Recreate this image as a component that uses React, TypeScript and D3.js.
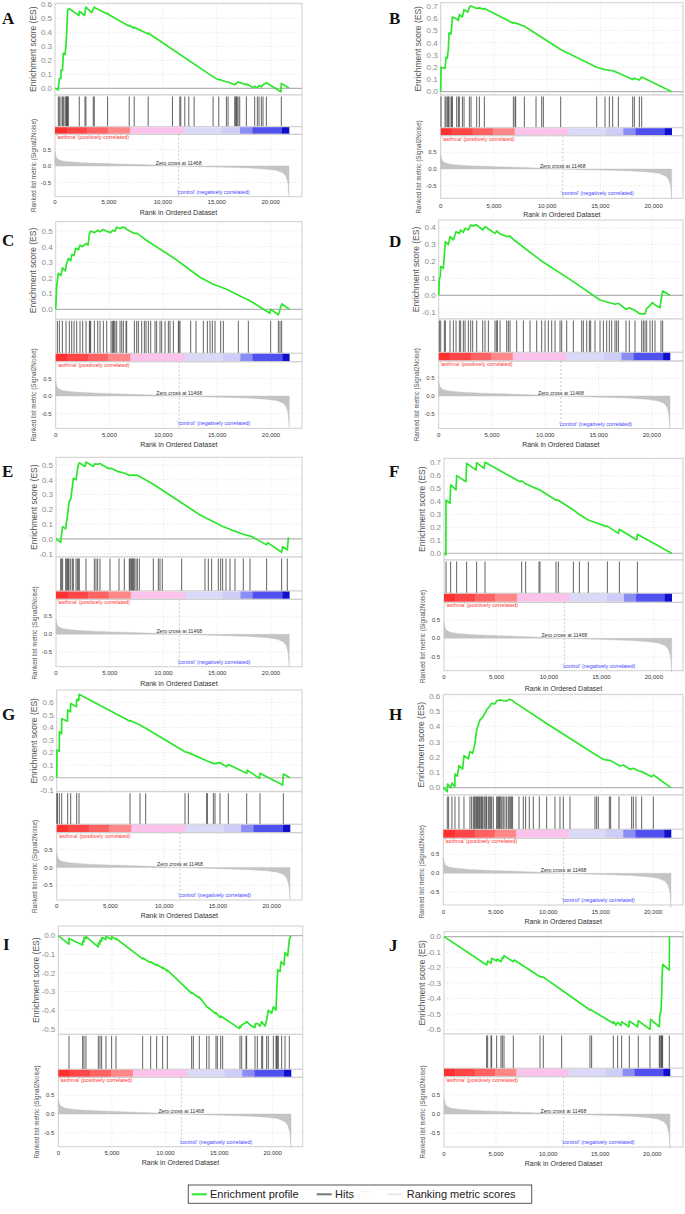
import React from 'react';
import * as d3 from 'd3';

// ---------------- DATA ----------------
const N_GENES = 21700;
const ZERO_CROSS = 11468;
const xTickValues = [0, 5000, 10000, 15000, 20000];
const rankTickValues = [-0.5, 0, 0.5];
const posLabel = "'asthma' (positively correlated)";
const negLabel = "'control' (negatively correlated)";
const zeroCrossLabel = 'Zero cross at 11468';
const legendItems = ['Enrichment profile', 'Hits', 'Ranking metric scores'];

const colorBarSegments: [number, number, string][] = [
  [0, 1100, '#ff3030'], [1100, 3000, '#ff4545'], [3000, 4900, '#ff6262'], [4900, 6950, '#ff8787'],
  [6950, 12000, '#fbc3ec'], [12000, 15500, '#dadaf8'], [15500, 17150, '#cdcdf7'], [17150, 18300, '#8c8cf5'],
  [18300, 21050, '#5050ee'], [21050, 21700, '#1010cc'],
];

const rankedMetric: [number, number][] = [
  [0, 0.42], [50, 0.32], [200, 0.22], [600, 0.16], [1200, 0.13], [2500, 0.1], [4000, 0.08], [6000, 0.06],
  [8500, 0.035], [11468, 0], [13500, -0.02], [16000, -0.04], [18000, -0.06], [19500, -0.09], [20500, -0.13],
  [21100, -0.2], [21400, -0.3], [21600, -0.5], [21690, -0.9], [21700, 0],
];

const esA: [number, number][] = [[0,0],[300,-0.012],[310,0.0],[400,0.07],[550,0.07],[560,0.13],[700,0.13],[770,0.25],[930,0.24],[1000,0.29],[1080,0.39],[1170,0.56],[1300,0.57],[2220,0.52],[2250,0.55],[2750,0.52],[2870,0.58],[3400,0.54],[3640,0.58],[3700,0.575],[4850,0.53],[4880,0.535],[5000,0.525],[6850,0.445],[6880,0.45],[7300,0.43],[7350,0.435],[8600,0.39],[8640,0.395],[14600,0.085],[15150,0.06],[15200,0.065],[15900,0.045],[16050,0.045],[16650,0.025],[16980,0.045],[17150,0.04],[17750,0.025],[17760,0.03],[18350,0.005],[18520,0.015],[18760,0.003],[18920,0.02],[19140,0.01],[19290,0.025],[19600,0.04],[20950,-0.025],[20990,0.035],[21700,0.0]];
const hitsA = [309,401,556,710,772,926,1019,1080,1111,1173,1235,2253,2778,2870,3549,3642,4877,6883,7346,8642,10895,11574,11667,12037,12407,12901,14660,15185,15895,16049,16667,16759,16821,16883,16975,17130,17747,18519,18765,18920,19136,19290,19599,20988];

const esB: [number, number][] = [[0,0],[31,0.2],[407,0.19],[501,0.28],[620,0.275],[720,0.35],[783,0.48],[960,0.47],[1033,0.53],[1096,0.61],[1500,0.595],[1659,0.58],[1753,0.63],[2030,0.61],[2192,0.67],[2550,0.65],[2693,0.69],[2849,0.70],[3381,0.68],[3632,0.685],[4000,0.675],[4102,0.68],[6800,0.56],[6826,0.565],[7045,0.56],[7859,0.535],[11272,0.345],[14653,0.2],[15436,0.18],[15843,0.175],[16156,0.172],[16688,0.152],[18035,0.1],[18191,0.11],[18660,0.095],[18880,0.12],[21700,0]];
const hitsB = [31,407,501,626,720,783,971,1033,1096,1503,1659,1753,2035,2192,2693,2849,3381,3632,4102,6826,6982,7045,7859,8955,9487,9643,11272,14653,15436,15843,16156,16688,18035,18191,18661,18880];

const esC: [number, number][] = [[0,0],[90,0.145],[240,0.23],[480,0.215],[620,0.265],[900,0.245],[1000,0.29],[1180,0.325],[1390,0.31],[1500,0.35],[1700,0.345],[1860,0.39],[2100,0.38],[2260,0.41],[2500,0.4],[2800,0.42],[3000,0.41],[3130,0.48],[3250,0.5],[3600,0.49],[3900,0.505],[4100,0.495],[4400,0.51],[4700,0.5],[5100,0.49],[5300,0.505],[5500,0.5],[5650,0.525],[6000,0.515],[6150,0.525],[6500,0.52],[6600,0.51],[7300,0.485],[7550,0.485],[8450,0.44],[10930,0.33],[13400,0.205],[14640,0.16],[15880,0.128],[16970,0.09],[17900,0.06],[19900,-0.025],[19970,0.0],[20680,-0.035],[20840,0.0],[21000,0.035],[21700,0]];
const hitsC = [155,341,619,960,1269,1486,1703,1950,2260,2508,2817,3127,3189,3251,3591,3901,4118,4427,4737,5139,5263,5356,5418,5511,5666,5975,6130,6285,6533,6594,7307,7523,7678,7988,8235,8390,8607,8824,9226,9381,9690,9845,10155,10464,10619,10929,11393,11455,11548,12539,13034,13715,14087,14334,14551,14799,15325,15573,16966,17895,19969,20681,20836,20991];

const esD: [number, number][] = [[0,0],[63,0.1],[150,0.11],[188,0.17],[438,0.16],[531,0.24],[625,0.317],[907,0.3],[1063,0.347],[1376,0.327],[1626,0.376],[1939,0.366],[2064,0.386],[2314,0.372],[2470,0.396],[2783,0.386],[3002,0.416],[3190,0.41],[3565,0.416],[4128,0.386],[4347,0.406],[4659,0.392],[5285,0.366],[5441,0.38],[5754,0.363],[6379,0.347],[6692,0.35],[7004,0.33],[9506,0.209],[12633,0.081],[15135,-0.028],[16542,-0.053],[16855,-0.047],[17574,-0.083],[17887,-0.073],[18418,-0.09],[18887,-0.11],[19356,-0.11],[19512,-0.077],[19825,-0.061],[20044,-0.043],[20294,-0.057],[20763,-0.073],[20857,-0.028],[21013,0.026],[21700,0]];
const hitsD = [63,188,531,625,1063,1376,1626,1939,2064,2314,2470,2783,3002,3190,3565,4128,4347,4659,5285,5441,5504,5754,6379,6535,6692,7317,7943,8568,9193,9662,9975,10288,10601,10913,11382,11539,12008,12633,13415,13571,13884,14134,14259,14666,15135,15447,15760,16010,16229,16542,16698,16855,17574,17887,18418,19043,19200,19356,19512,19825,20044,20294,20857,21013];

const esE: [number, number][] = [[0,0],[434,-0.022],[527,0.038],[620,0.083],[899,0.068],[1085,0.17],[1209,0.25],[1364,0.27],[1519,0.35],[1612,0.41],[1860,0.4],[1984,0.466],[2077,0.5],[2170,0.515],[2697,0.489],[2790,0.52],[3472,0.49],[3565,0.507],[3900,0.505],[4092,0.51],[4867,0.477],[5177,0.477],[5797,0.455],[6417,0.444],[6882,0.428],[7037,0.432],[7502,0.432],[7812,0.42],[8897,0.376],[11532,0.252],[13392,0.162],[14942,0.106],[15407,0.088],[16182,0.065],[16492,0.056],[17422,0.032],[18197,0.016],[19592,-0.04],[19685,-0.025],[20987,-0.09],[21080,-0.052],[21514,-0.074],[21607,0.005],[21700,0]];
const hitsE = [434,527,620,899,992,1085,1147,1209,1364,1519,1612,1860,1984,2077,2170,2790,3565,3720,3875,4092,5022,5859,6355,6820,6882,6975,7037,7130,7192,7285,7440,7564,7750,9052,9517,9672,9889,11687,13857,14167,14477,15097,15314,15500,15810,16182,16647,17422,18042,19592,20987,21514];

const esF: [number, number][] = [[0,0],[185,-0.013],[191,0.41],[572,0.386],[635,0.528],[1144,0.49],[1207,0.6],[2097,0.553],[2160,0.695],[3050,0.643],[3113,0.7],[3812,0.656],[3908,0.703],[7244,0.553],[7403,0.56],[7720,0.54],[8991,0.494],[9150,0.489],[10675,0.41],[10897,0.41],[12327,0.335],[12899,0.3],[13757,0.257],[15504,0.206],[15567,0.21],[16616,0.154],[16711,0.185],[18363,0.103],[18427,0.147],[21700,0]];
const hitsF = [191,635,1207,2160,3113,3908,7402,7784,9054,9150,10675,10897,12327,12899,13756,15567,16711,18427];

const esG: [number, number][] = [[0,0],[20,0.22],[240,0.21],[248,0.366],[455,0.35],[465,0.47],[1000,0.45],[1023,0.54],[1280,0.525],[1302,0.59],[1840,0.565],[1860,0.624],[2060,0.615],[2077,0.664],[6820,0.45],[6850,0.455],[7750,0.42],[8277,0.393],[11935,0.207],[12245,0.2],[13950,0.135],[14570,0.114],[14725,0.112],[15190,0.12],[15810,0.088],[15965,0.106],[17670,0.035],[17732,0.061],[18848,-0.005],[18910,0.035],[21018,-0.058],[21080,0.03],[21700,0]];
const hitsG = [20,62,248,465,1023,1302,1860,2077,6820,7750,8277,11935,12245,13950,14012,14570,14725,15190,15965,17670,18910,21080];

const esH: [number, number][] = [[0,0],[381,-0.026],[400,0.024],[731,0.0],[826,0.03],[1100,0.007],[1112,0.089],[1334,0.076],[1493,0.144],[1843,0.122],[1970,0.21],[2383,0.188],[2542,0.236],[2796,0.225],[3018,0.29],[3177,0.377],[3336,0.41],[3495,0.443],[3749,0.46],[3971,0.487],[4130,0.508],[4384,0.53],[4607,0.552],[4924,0.548],[5083,0.567],[5337,0.574],[5719,0.57],[6036,0.568],[6291,0.578],[6513,0.574],[6700,0.563],[9849,0.42],[14297,0.225],[15250,0.185],[15948,0.177],[16838,0.142],[17156,0.148],[17791,0.12],[18109,0.127],[18586,0.111],[18903,0.105],[19856,0.072],[20015,0.083],[21700,0]];
const hitsH = [381,508,826,1112,1493,1970,2542,2700,2859,2955,3018,3113,3177,3272,3336,3431,3495,3590,3654,3749,3876,3971,4067,4130,4289,4384,4511,4607,4766,5083,5179,5274,5337,5401,5496,5592,5719,5877,6036,6195,6291,6418,6513,6608,7212,7625,7847,8197,8578,9150,9849,10643,11120,11437,12073,14455,14614,14773,15821,15948,16743,17950,18109,18363,18903,20015];

const esI: [number, number][] = [[0,0],[990,-0.045],[995,-0.015],[2265,-0.05],[2270,-0.03],[2390,-0.033],[2395,-0.01],[2580,-0.015],[2585,-0.005],[3725,-0.06],[3730,-0.04],[3880,-0.045],[3885,-0.025],[4040,-0.03],[4045,-0.01],[4440,-0.02],[4445,-0.005],[4970,-0.02],[4975,-0.005],[5375,-0.02],[5380,-0.015],[7866,-0.125],[7870,-0.12],[8612,-0.145],[8615,-0.14],[9172,-0.16],[9175,-0.155],[9731,-0.175],[9735,-0.17],[10166,-0.19],[10170,-0.185],[12436,-0.31],[12440,-0.305],[13151,-0.335],[13155,-0.33],[13835,-0.382],[14054,-0.39],[14706,-0.42],[14710,-0.415],[15079,-0.439],[15141,-0.432],[15700,-0.453],[16881,-0.498],[16944,-0.486],[17006,-0.493],[17100,-0.48],[17410,-0.471],[17566,-0.462],[18032,-0.486],[18343,-0.493],[18350,-0.475],[18561,-0.471],[18810,-0.486],[18965,-0.462],[19276,-0.486],[19431,-0.453],[19587,-0.4],[19898,-0.417],[20053,-0.382],[20302,-0.4],[20364,-0.31],[20457,-0.184],[20675,-0.193],[20769,-0.14],[21049,-0.157],[21142,-0.091],[21391,-0.109],[21545,-0.02],[21700,0]];
const hitsI = [995,2270,2394,2580,3731,3886,4042,4446,4974,5379,7866,8612,9172,9731,10166,12436,12591,13151,13835,14054,14706,14830,15141,15327,16944,17100,17504,17566,18343,18561,18965,19058,19431,19587,20053,20302,20364,20426,20519,20830,21142,21545];

const esJ: [number, number][] = [[0,0],[4096,-0.183],[4192,-0.158],[4512,-0.173],[4576,-0.14],[5056,-0.158],[5100,-0.145],[5472,-0.162],[5600,-0.136],[5700,-0.14],[5760,-0.123],[6656,-0.162],[6752,-0.151],[9216,-0.259],[9536,-0.262],[11296,-0.345],[14016,-0.475],[14176,-0.476],[16256,-0.561],[16300,-0.55],[16500,-0.572],[16672,-0.555],[16992,-0.576],[17056,-0.55],[17760,-0.583],[17792,-0.546],[18592,-0.583],[18656,-0.544],[19776,-0.6],[19840,-0.535],[20672,-0.583],[20736,-0.496],[20832,-0.49],[20896,-0.39],[20928,-0.29],[20992,-0.18],[21632,-0.216],[21650,0],[21700,0]];
const hitsJ = [4096,4192,4512,4576,5056,5472,5600,5760,6656,9216,9536,11296,14016,14176,16256,16672,17056,17792,18656,19776,20672,20736,20832,20896,20928,20992,21632];

const panelLetters = ['A', 'B', 'C', 'D', 'E', 'F', 'G', 'H', 'I', 'J'];
const panelES = [esA, esB, esC, esD, esE, esF, esG, esH, esI, esJ];
const panelHits = [hitsA, hitsB, hitsC, hitsD, hitsE, hitsF, hitsG, hitsH, hitsI, hitsJ];

// ---------------- LAYOUT ----------------
type Layout = {
  x0: number; xEnd: number; right: number;
  esTop: number; esBot: number; esMin: number; esMax: number;
  barTop: number; barBot: number; rZero: number; rHalf: number; rBot: number;
  tickY: number; titleY: number; lx: number; ly: number;
};
const layouts: Layout[] = [
  { x0: 55, xEnd: 289, right: 302, esTop: 3.3, esBot: 95, esMin: -0.048, esMax: 0.607, barTop: 126.7, barBot: 134.3, rZero: 166, rHalf: 16.5, rBot: 196.7, tickY: 202, titleY: 212.5, lx: 2, ly: 23.5 },
  { x0: 440.7, xEnd: 671.7, right: 683, esTop: 2.7, esBot: 95, esMin: -0.027, esMax: 0.727, barTop: 127.7, barBot: 135.7, rZero: 169, rHalf: 16.8, rBot: 198.3, tickY: 205.7, titleY: 215, lx: 389, ly: 23.5 },
  { x0: 55.7, xEnd: 289.3, right: 302, esTop: 221.7, esBot: 319.3, esMin: -0.064, esMax: 0.56, barTop: 353.3, barBot: 361.7, rZero: 396, rHalf: 17.5, rBot: 428.3, tickY: 434.7, titleY: 444.7, lx: 2, ly: 246 },
  { x0: 438.7, xEnd: 670, right: 683, esTop: 220, esBot: 319, esMin: -0.14, esMax: 0.445, barTop: 352.3, barBot: 361, rZero: 396, rHalf: 17.8, rBot: 428.5, tickY: 435, titleY: 445, lx: 389, ly: 247 },
  { x0: 56, xEnd: 289.3, right: 302, esTop: 457.3, esBot: 557, esMin: -0.122, esMax: 0.552, barTop: 591, barBot: 599.3, rZero: 634.3, rHalf: 18, rBot: 666.7, tickY: 673.3, titleY: 683.3, lx: 2, ly: 477 },
  { x0: 444, xEnd: 671.7, right: 683, esTop: 458.3, esBot: 560, esMin: -0.052, esMax: 0.734, barTop: 593.3, barBot: 602.3, rZero: 638.3, rHalf: 18.7, rBot: 670.7, tickY: 677.3, titleY: 688.3, lx: 389, ly: 477 },
  { x0: 56.7, xEnd: 290, right: 302, esTop: 690, esBot: 791.7, esMin: -0.111, esMax: 0.698, barTop: 824.3, barBot: 832.7, rZero: 867.5, rHalf: 17.8, rBot: 900, tickY: 906, titleY: 916, lx: 2, ly: 720 },
  { x0: 443.3, xEnd: 671, right: 683, esTop: 694.3, esBot: 795, esMin: -0.048, esMax: 0.611, barTop: 829.3, barBot: 838.3, rZero: 873.3, rHalf: 19, rBot: 905, tickY: 911.7, titleY: 921.7, lx: 389, ly: 720 },
  { x0: 58.3, xEnd: 291, right: 302.7, esTop: 926, esBot: 1034.3, esMin: -0.53, esMax: 0.052, barTop: 1069.3, barBot: 1077.3, rZero: 1114, rHalf: 18.7, rBot: 1146.7, tickY: 1153.3, titleY: 1162.7, lx: 3, ly: 950 },
  { x0: 444, xEnd: 670, right: 683, esTop: 931.7, esBot: 1034, esMin: -0.63, esMax: 0.032, barTop: 1068.3, barBot: 1076.7, rZero: 1114, rHalf: 19, rBot: 1147, tickY: 1154, titleY: 1164, lx: 389, ly: 951 },
];

const FONT = "'Liberation Sans', Arial, Helvetica, sans-serif";
const fmt1 = (v: number) => (Math.abs(v) < 1e-9 ? '0.0' : v.toFixed(1));
const fmtX = d3.format(',');

function esTickValues(min: number, max: number) {
  const out: number[] = [];
  for (let k = Math.ceil(min * 10 - 1e-6); k <= Math.floor(max * 10 + 1e-6); k++) out.push(k / 10);
  return out;
}

function Panel({ L, es, hits, letter }: { L: Layout; es: [number, number][]; hits: number[]; letter: string }) {
  const x = d3.scaleLinear().domain([0, N_GENES]).range([L.x0, L.xEnd]);
  const y = d3.scaleLinear().domain([L.esMin, L.esMax]).range([L.esBot, L.esTop]);
  const yr = d3.scaleLinear().domain([0, 0.5]).range([L.rZero, L.rZero - L.rHalf]);
  const w = L.right - L.x0;
  const line = d3.line<[number, number]>().x((d) => x(d[0])).y((d) => y(d[1]));
  const area = d3.area<[number, number]>().x((d) => x(d[0])).y0(yr(0)).y1((d) => yr(d[1]));
  const esTicks = esTickValues(L.esMin, L.esMax);
  const frame = '#cfcfcf';
  const grid = '#dcdcdc';
  const xz = x(ZERO_CROSS);
  return (
    <g>
      <text x={L.lx} y={L.ly} fontFamily="'Liberation Serif', 'Times New Roman', serif" fontWeight="bold" fontSize={17} fill="#111">{letter}</text>
      {/* ES panel */}
      <rect x={L.x0} y={L.esTop} width={w} height={L.esBot - L.esTop} fill="#fff" stroke={frame} strokeWidth={1} />
      {xTickValues.filter((v) => v > 0).map((v) => (
        <line key={'gv' + v} x1={x(v)} x2={x(v)} y1={L.esTop} y2={L.esBot} stroke={grid} strokeDasharray="1,2" strokeWidth={0.8} />
      ))}
      {esTicks.filter((v) => Math.abs(v) > 1e-9).map((v) => (
        <line key={'gh' + v} x1={L.x0} x2={L.right} y1={y(v)} y2={y(v)} stroke={grid} strokeDasharray="1,2" strokeWidth={0.8} />
      ))}
      <line x1={L.x0} x2={L.right} y1={y(0)} y2={y(0)} stroke="#b4b4b4" strokeWidth={1.2} />
      {esTicks.map((v) => (
        <text key={'et' + v} x={L.x0 - 3} y={y(v)} dy="0.35em" textAnchor="end" fontFamily={FONT} fontSize={8} fill="#8a8a8a">{fmt1(v)}</text>
      ))}
      <path d={line(es) || ''} fill="none" stroke="#2ee62e" strokeWidth={1.7} strokeLinejoin="round" />
      <text transform={`translate(${L.x0 - 19.5},${(L.esTop + L.esBot) / 2}) rotate(-90)`} textAnchor="middle" fontFamily={FONT} fontSize={8.5} fill="#555">Enrichment score (ES)</text>
      {/* Hits panel */}
      <rect x={L.x0} y={L.esBot} width={w} height={L.barTop - L.esBot} fill="#fff" stroke={frame} strokeWidth={1} />
      {hits.map((h, i) => (
        <line key={'h' + i} x1={x(h)} x2={x(h)} y1={L.esBot + 1.5} y2={L.barTop} stroke="#3a3a3a" strokeWidth={0.8} />
      ))}
      {/* Color bar */}
      <rect x={L.x0} y={L.barTop} width={w} height={L.barBot - L.barTop} fill="#fff" stroke={frame} strokeWidth={1} />
      {colorBarSegments.map((s, i) => (
        <rect key={'c' + i} x={x(s[0])} y={L.barTop + 0.5} width={x(s[1]) - x(s[0]) + 0.3} height={L.barBot - L.barTop - 1} fill={s[2]} />
      ))}
      {/* Ranked list panel */}
      <rect x={L.x0} y={L.barBot} width={w} height={L.rBot - L.barBot} fill="none" stroke={frame} strokeWidth={1} />
      {xTickValues.filter((v) => v > 0).map((v) => (
        <line key={'gr' + v} x1={x(v)} x2={x(v)} y1={L.barBot} y2={L.rBot} stroke={grid} strokeDasharray="1,2" strokeWidth={0.8} />
      ))}
      {rankTickValues.filter((v) => v !== 0).map((v) => (
        <line key={'grh' + v} x1={L.x0} x2={L.right} y1={yr(v)} y2={yr(v)} stroke={grid} strokeDasharray="1,2" strokeWidth={0.8} />
      ))}
      <line x1={xz} x2={xz} y1={L.barBot} y2={L.rBot} stroke="#bbbbbb" strokeDasharray="2,2" strokeWidth={0.8} />
      <path d={area(rankedMetric) || ''} fill="#c4c4c4" stroke="#bdbdbd" strokeWidth={0.4} />
      {rankTickValues.map((v) => (
        <text key={'rt' + v} x={L.x0 - 4} y={yr(v)} dy="0.35em" textAnchor="end" fontFamily={FONT} fontSize={6} fill="#444">{fmt1(v)}</text>
      ))}
      <text x={L.x0 + 1.5} y={L.barBot + 5} fontFamily={FONT} fontSize={5.4} fill="#ff3333">{posLabel}</text>
      <text x={xz} y={L.rZero - 1.2} textAnchor="middle" fontFamily={FONT} fontSize={5.2} fill="#333">{zeroCrossLabel}</text>
      <text x={xz - 2} y={L.rBot - 3} fontFamily={FONT} fontSize={5.4} fill="#4545ff">{negLabel}</text>
      <text transform={`translate(${L.x0 - 19.5},${(L.barBot + L.rBot) / 2}) rotate(-90)`} textAnchor="middle" fontFamily={FONT} fontSize={6.3} fill="#555">Ranked list metric (Signal2Noise)</text>
      {/* X axis */}
      {xTickValues.map((v) => (
        <text key={'xt' + v} x={x(v)} y={L.tickY} dy="0.35em" textAnchor="middle" fontFamily={FONT} fontSize={6} fill="#333">{fmtX(v)}</text>
      ))}
      <text x={(L.x0 + L.right) / 2} y={L.titleY} dy="0.35em" textAnchor="middle" fontFamily={FONT} fontSize={7} fill="#333">Rank in Ordered Dataset</text>
    </g>
  );
}

function Legend() {
  const ly = 1194.3;
  return (
    <g fontFamily={FONT} fontSize={11} fill="#222">
      <rect x={188.3} y={1185} width={343.4} height={18.3} fill="#fff" stroke="#555" strokeWidth={1} />
      <line x1={191.7} x2={206.7} y1={ly} y2={ly} stroke="#2ee62e" strokeWidth={2} />
      <text x={210} y={ly} dy="0.36em">{legendItems[0]}</text>
      <line x1={316.7} x2={331.7} y1={ly} y2={ly} stroke="#777" strokeWidth={2} />
      <text x={335} y={ly} dy="0.36em">{legendItems[1]}</text>
      <line x1={361.7} x2={370} y1={ly - 2.6} y2={ly - 2.6} stroke="#eeeeee" strokeWidth={1} />
      <line x1={388} x2={401.7} y1={ly} y2={ly} stroke="#e2e2e2" strokeWidth={1.5} />
      <text x={406.7} y={ly} dy="0.36em">{legendItems[2]}</text>
    </g>
  );
}

export default function App() {
  return (
    <svg width={685} height={1214} style={{ position: 'absolute', left: 0, top: 0, background: '#fff' }}>
      <rect x={0} y={0} width={685} height={1214} fill="#fff" />
      {layouts.map((L, i) => (
        <Panel key={i} L={L} es={panelES[i]} hits={panelHits[i]} letter={panelLetters[i]} />
      ))}
      <Legend />
    </svg>
  );
}
